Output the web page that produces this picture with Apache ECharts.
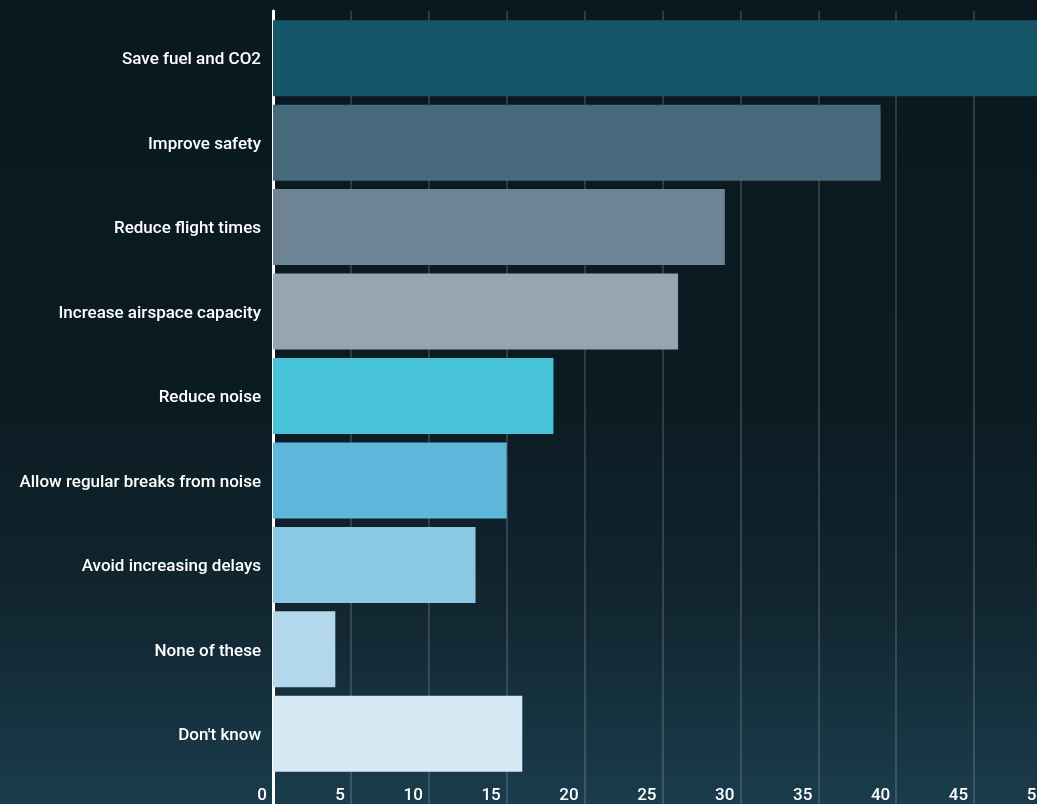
<!DOCTYPE html>
<html>
<head>
<meta charset="utf-8">
<script src="https://cdn.jsdelivr.net/npm/echarts@6/dist/echarts.min.js"></script>
<style>
  html, body { margin: 0; padding: 0; background: #0a1920; }
  #chart { width: 1037px; height: 804px; }
</style>
</head>
<body>
<div id="chart"></div>
<script>
// 类别与数值
const categories = [
  'Save fuel and CO2',
  'Improve safety',
  'Reduce flight times',
  'Increase airspace capacity',
  'Reduce noise',
  'Allow regular breaks from noise',
  'Avoid increasing delays',
  'None of these',
  "Don't know",
];
const values = [50, 39, 29, 26, 18, 15, 13, 4, 16];
const barColors = [
  '#15566a', '#476a7c', '#6e8494', '#97a5b2',
  '#46c3d8', '#5db8dc', '#8bc8e4', '#b3d8ec', '#d6e9f4',
];
const axisMin = 0;
const axisMax = 50;
const tickStep = 5;

const fontFamily = 'Roboto, "Noto Sans", sans-serif';
const gridColor = 'rgba(255,255,255,0.2)';

const chart = echarts.init(document.getElementById('chart'), null, { renderer: 'canvas' });

chart.setOption({
  animation: false,
  backgroundColor: {
    type: 'linear', x: 0, y: 0, x2: 0, y2: 1,
    colorStops: [
      { offset: 0, color: '#0a1920' },
      { offset: 0.5, color: '#0b1b22' },
      { offset: 0.75, color: '#112630' },
      { offset: 1, color: '#1a3c4c' },
    ],
  },
  grid: [
    // 主网格：柱子 + 标签（右侧超出画面）
    { left: 273, width: 779, top: 16, bottom: 28, outerBoundsMode: 'none' },
    // 背景网格：竖线与白色轴线贯穿整个高度
    { left: 273, width: 779, top: 11, bottom: 0, outerBoundsMode: 'none' },
  ],
  xAxis: [
    {
      gridIndex: 0,
      type: 'value',
      min: axisMin,
      max: axisMax,
      interval: tickStep,
      splitLine: { show: false },
      axisLine: { show: false },
      axisTick: { show: false },
      axisLabel: {
        color: '#ffffff',
        fontFamily,
        fontSize: 17,
        fontWeight: 500,
        align: 'right',
        padding: [0, 6, 0, 0],
        margin: 11,
        showMaxLabel: true,
      },
    },
    {
      gridIndex: 1,
      type: 'value',
      min: axisMin,
      max: axisMax,
      interval: tickStep,
      splitLine: { show: true, lineStyle: { color: gridColor, width: 1.5 } },
      axisLine: { show: false },
      axisTick: { show: false },
      axisLabel: { show: false },
    },
  ],
  yAxis: [
    {
      gridIndex: 0,
      type: 'category',
      inverse: true,
      data: categories,
      axisLine: { show: false },
      axisTick: { show: false },
      axisLabel: {
        margin: 12,
        formatter: (v) => '{a|' + v + '}',
        rich: {
          a: {
            color: '#ffffff',
            fontFamily,
            fontSize: 17,
            fontWeight: 500,
            padding: [4, 0, 0, 0],
          },
        },
      },
    },
    {
      gridIndex: 1,
      type: 'value',
      min: 0,
      max: 1,
      offset: 1.5,
      splitLine: { show: false },
      axisTick: { show: false },
      axisLabel: { show: false },
      axisLine: { show: true, lineStyle: { color: '#ffffff', width: 3 } },
    },
  ],
  series: [
    {
      type: 'bar',
      xAxisIndex: 0,
      yAxisIndex: 0,
      barCategoryGap: '10%',
      data: values.map((v, i) => ({ value: v, itemStyle: { color: barColors[i] } })),
      z: 3,
    },
  ],
});
</script>
</body>
</html>
